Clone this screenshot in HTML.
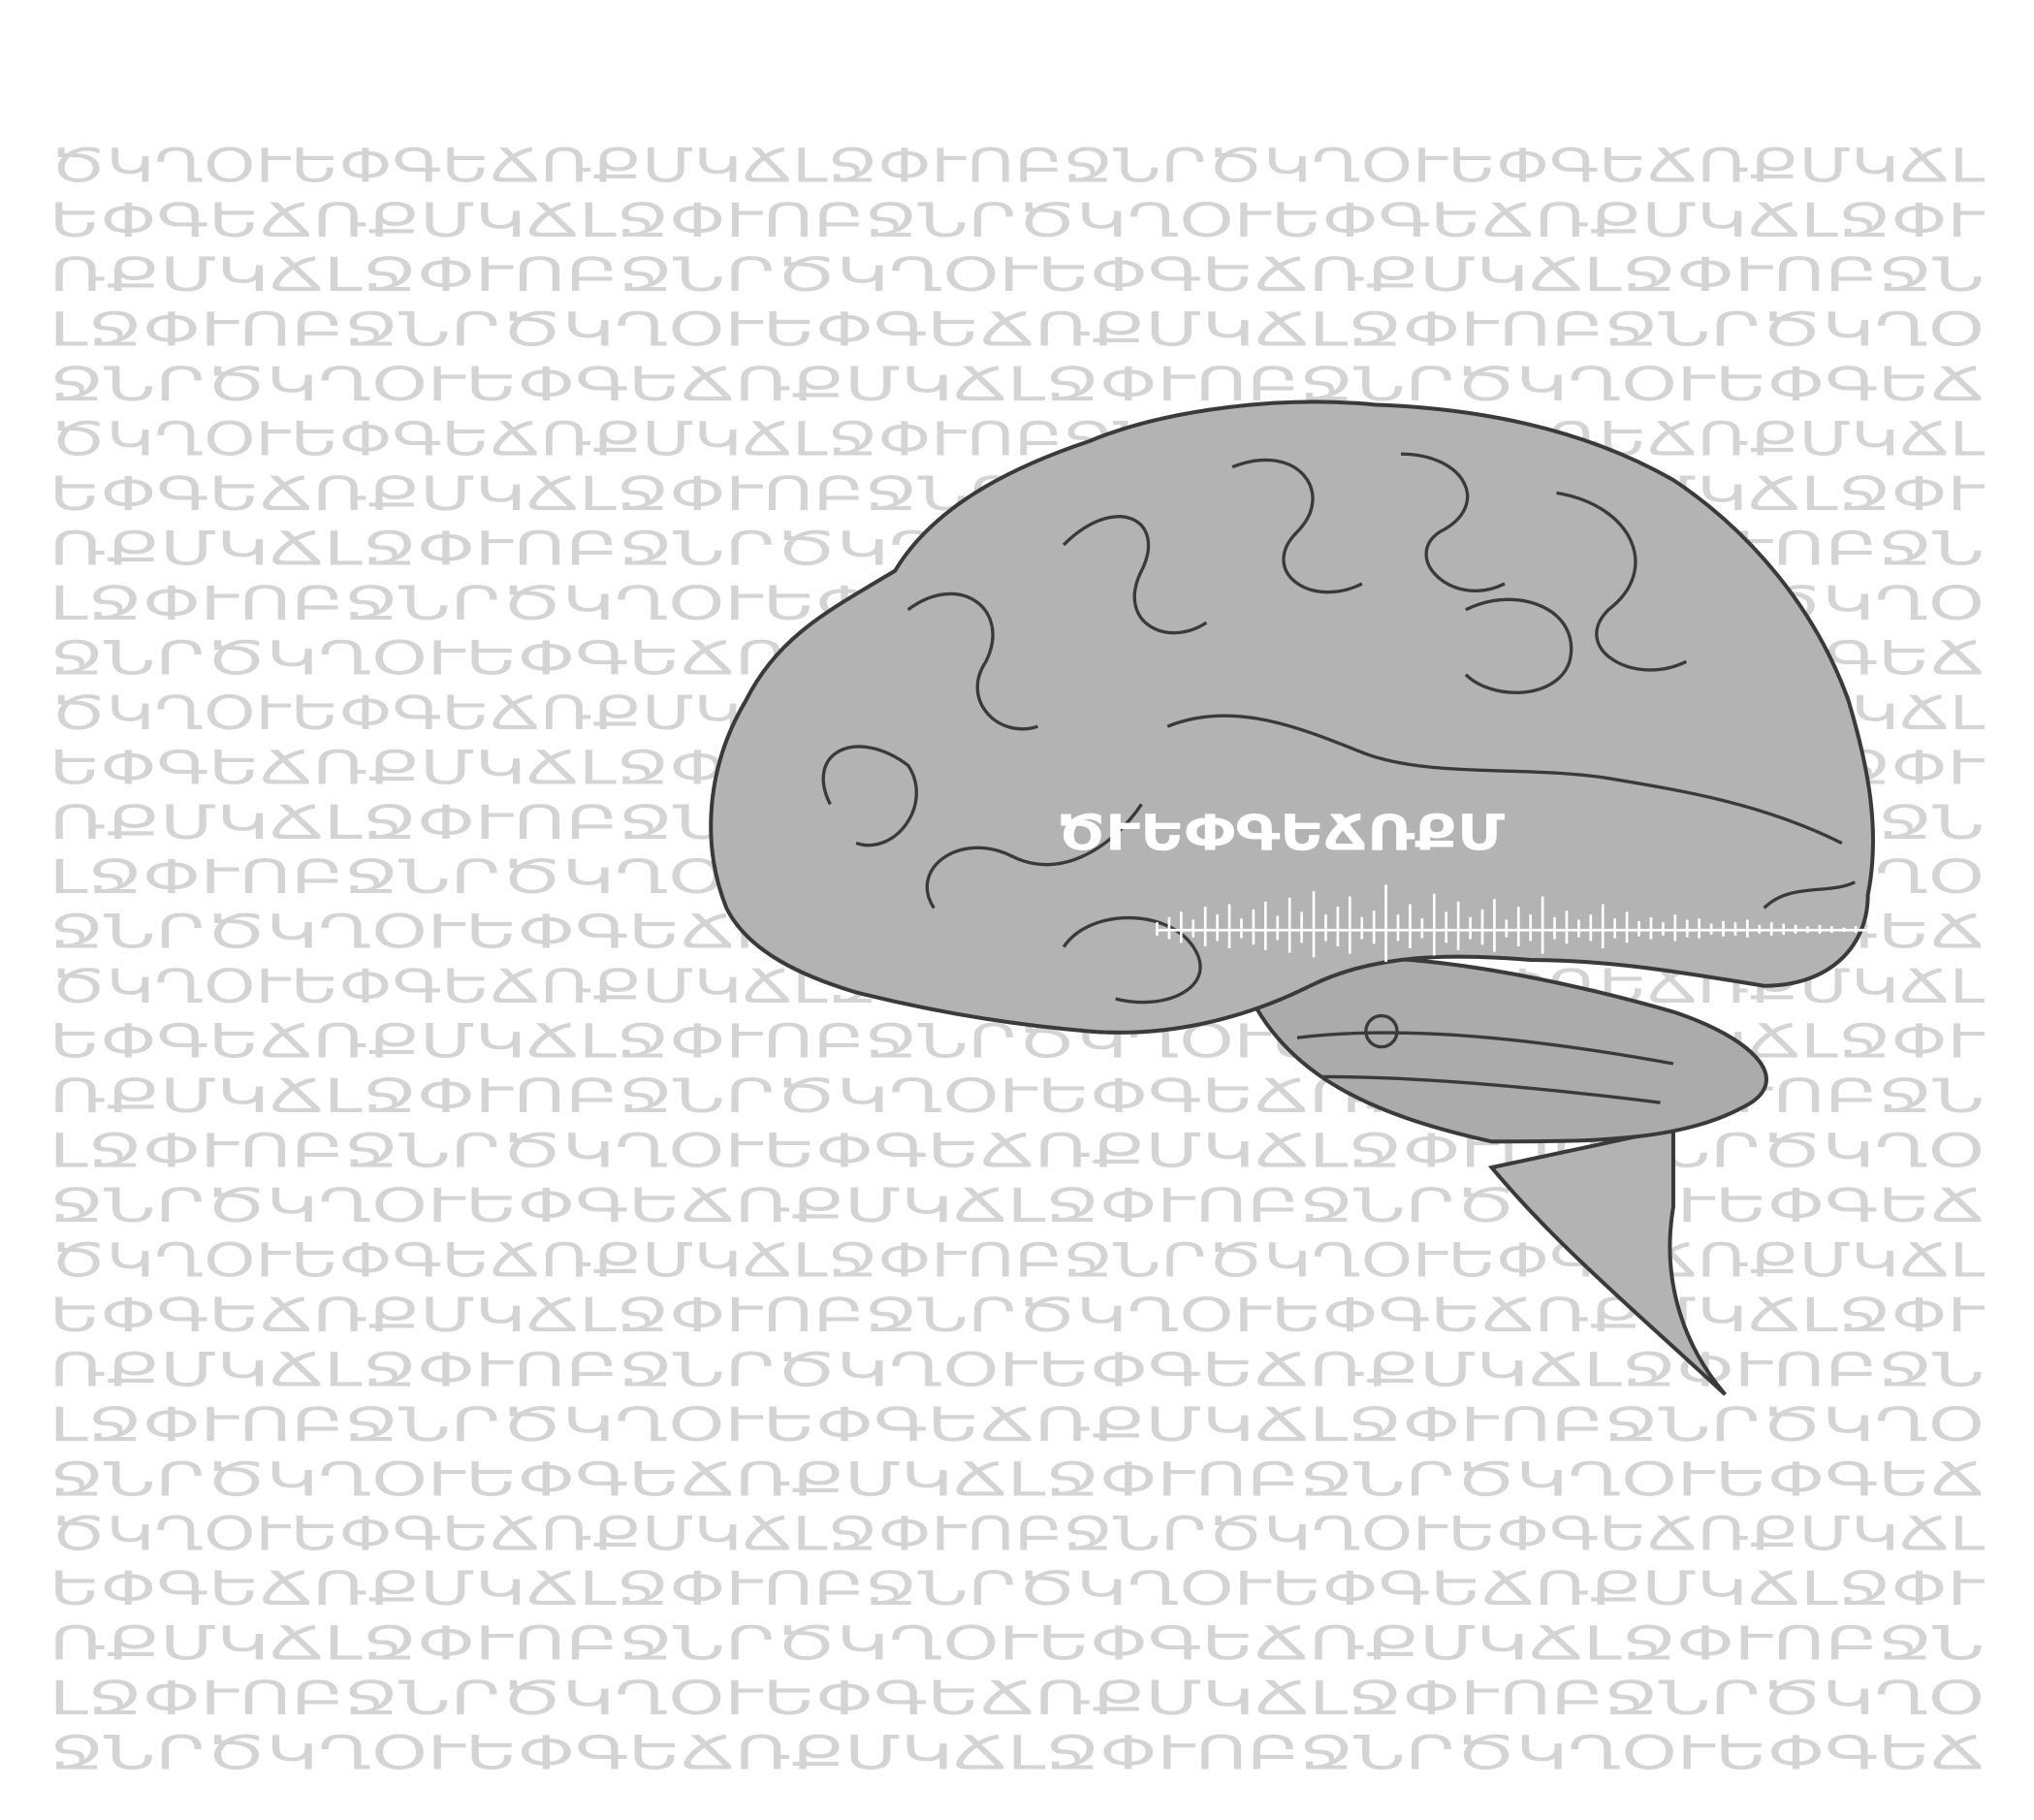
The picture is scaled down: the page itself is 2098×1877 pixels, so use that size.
<!DOCTYPE html>
<html><head><meta charset="utf-8"><style>
html,body{margin:0;padding:0;background:#fff}
svg{display:block}
</style></head><body>
<svg width="2098" height="1877" viewBox="0 0 1568 1403" xmlns="http://www.w3.org/2000/svg">
<rect width="1568" height="1403" fill="#fff"/>
<g id="rows" fill="#d4d4d4" font-family="'DejaVu Sans', sans-serif" font-size="36"></g>
<g>
<path d="M1150,900 C1200,960 1260,1010 1330,1075 C1300,1040 1280,990 1290,930 L1290,870 Z" fill="#b3b3b3" stroke="#3a3a3a" stroke-width="3"/>
<path d="M960,760 C1000,720 1150,740 1290,780 C1350,800 1380,830 1350,850 C1300,880 1230,880 1150,880 C1060,860 990,830 960,760 Z" fill="#ababab" stroke="#3a3a3a" stroke-width="3"/>
<path d="M560,700 C540,650 545,590 575,540 C600,490 640,470 690,440 C720,390 780,360 840,340 C900,315 990,305 1060,312 C1140,315 1220,330 1290,370 C1350,410 1400,470 1425,540 C1440,590 1450,640 1440,690 C1440,730 1410,760 1360,760 C1300,750 1240,740 1180,740 C1120,735 1060,735 1010,760 C960,785 900,800 840,795 C780,790 720,780 660,765 C610,750 575,730 560,700 Z" fill="#b3b3b3" stroke="#3a3a3a" stroke-width="3"/>
<g fill="none" stroke="#3a3a3a" stroke-width="2.5">
<path d="M640,620 C620,580 660,560 700,590 C720,620 690,660 660,650"/>
<path d="M700,470 C740,440 780,470 760,510 C740,540 770,570 800,560"/>
<path d="M820,420 C860,380 900,400 880,440 C860,480 900,500 930,480"/>
<path d="M950,360 C1000,340 1030,380 1000,410 C970,440 1010,470 1050,450"/>
<path d="M1080,350 C1130,350 1150,390 1110,410 C1080,430 1120,470 1160,450"/>
<path d="M1200,380 C1260,390 1280,440 1240,470 C1210,500 1260,530 1300,510"/>
<path d="M1130,470 C1170,450 1220,470 1210,510 C1200,540 1150,540 1130,520"/>
<path d="M720,700 C700,670 740,640 780,660 C820,680 860,650 880,620"/>
<path d="M820,730 C840,700 900,700 920,730 C940,760 900,780 860,770"/>
<path d="M900,560 C950,540 1000,560 1050,580 C1100,600 1180,590 1240,600 C1300,610 1360,620 1420,650"/>
<path d="M1360,700 C1380,680 1410,690 1430,680"/>
<path d="M1000,800 C1080,790 1180,800 1290,820"/>
<path d="M1020,830 C1100,830 1200,840 1280,850"/>
<circle cx="1065" cy="795" r="12"/>
</g>
</g>
<text x="815" y="655" fill="#fff" font-family="'DejaVu Sans', sans-serif" font-weight="bold" font-size="38" textLength="345" lengthAdjust="spacingAndGlyphs">ԾՒԵՓԳԵՃՌՔՄ</text>
<g id="wave" stroke="#fff" stroke-width="2"></g>
</svg>
<script>
const rowText = ["ԾԿՂՕՒԵՓԳԵՃՌՔՄԿՃԼՋՓՒՈԲՋՆՐԾԿՂՕՒԵՓԳԵՃՌՔՄԿՃԼ","ԵՓԳԵՃՌՔՄԿՃԼՋՓՒՈԲՋՆՐԾԿՂՕՒԵՓԳԵՃՌՔՄԿՃԼՋՓՒ","ՌՔՄԿՃԼՋՓՒՈԲՋՆՐԾԿՂՕՒԵՓԳԵՃՌՔՄԿՃԼՋՓՒՈԲՋՆ","ԼՋՓՒՈԲՋՆՐԾԿՂՕՒԵՓԳԵՃՌՔՄԿՃԼՋՓՒՈԲՋՆՐԾԿՂՕ","ՋՆՐԾԿՂՕՒԵՓԳԵՃՌՔՄԿՃԼՋՓՒՈԲՋՆՐԾԿՂՕՒԵՓԳԵՃ"];
const waveAmp = [6,10,14,8,18,12,20,9,16,22,11,25,14,30,12,18,26,10,15,35,12,20,9,28,14,22,10,16,24,8,18,12,26,10,15,8,12,20,9,14,7,10,6,12,8,9,5,7,6,8,4,6,5,4,3,4,3,2,3,2];
const rows = document.getElementById('rows');
for (let i = 0; i < 30; i++) {
  const t = document.createElementNS('http://www.w3.org/2000/svg','text');
  
  
  t.setAttribute('x', 38);
  t.setAttribute('y', 140 + i * 42.2);
  t.setAttribute('textLength', 1492);
  t.setAttribute('lengthAdjust', 'spacingAndGlyphs');
  t.textContent = rowText[i % rowText.length];
  rows.appendChild(t);
}
const wave = document.getElementById('wave');
const x0 = 892, x1 = 1440, cy = 717;
for (let i = 0; i < waveAmp.length; i++) {
  const x = x0 + (x1 - x0) * i / (waveAmp.length - 1);
  const l = document.createElementNS('http://www.w3.org/2000/svg','line');
  
  
  l.setAttribute('x1', x); l.setAttribute('x2', x);
  l.setAttribute('y1', cy - waveAmp[i]); l.setAttribute('y2', cy + waveAmp[i] * 0.7);
  wave.appendChild(l);
}
const base = document.createElementNS('http://www.w3.org/2000/svg','line');


base.setAttribute('x1', x0); base.setAttribute('x2', x1);
base.setAttribute('y1', cy); base.setAttribute('y2', cy);
wave.appendChild(base);
</script>
</body></html>
